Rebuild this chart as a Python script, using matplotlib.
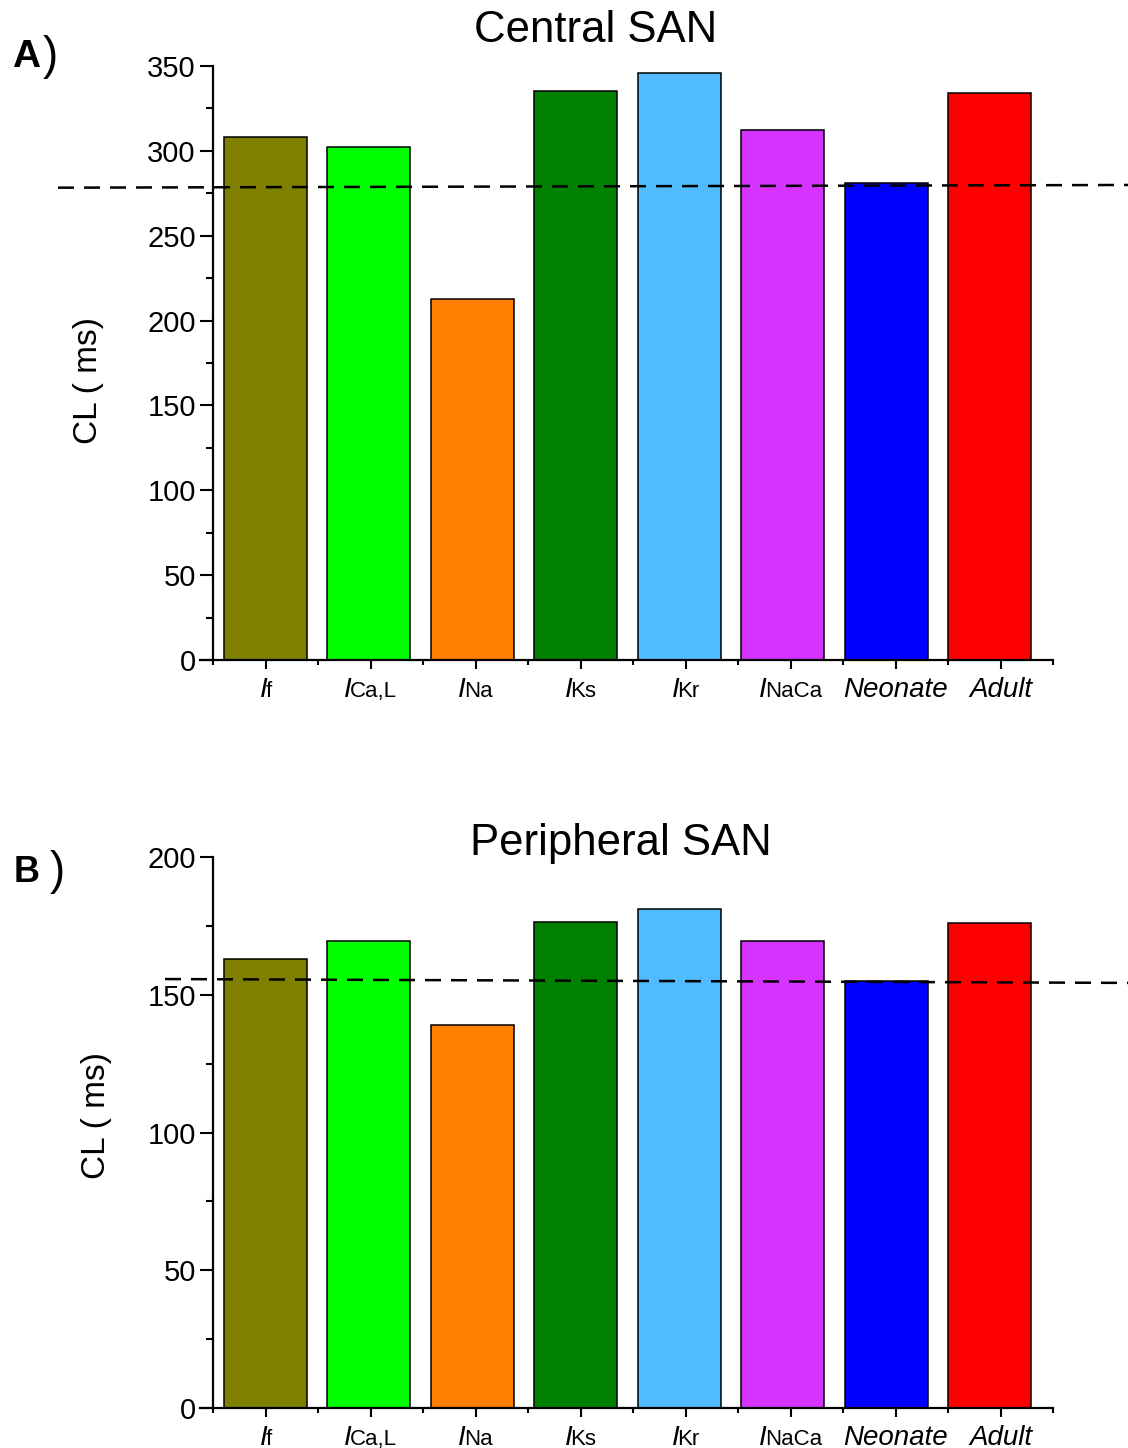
import numpy as np
import matplotlib
matplotlib.use("Agg")
import matplotlib.pyplot as plt
from matplotlib.offsetbox import TextArea, HPacker, AnnotationBbox
from matplotlib.ticker import MultipleLocator, FixedLocator

plt.rcParams['font.family'] = ['Liberation Sans', 'DejaVu Sans']

# Label parts: italic prefix + smaller upright suffix
label_prefix = ["I", "I", "I", "I", "I", "I", "", ""]
label_suffix = ["f", "Ca,L", "Na", "Ks", "Kr", "NaCa", "", ""]
label_whole = ["", "", "", "", "", "", "Neonate", "Adult"]

colors = ["#808000", "#00FF00", "#FF8000", "#008000",
          "#50BBFF", "#D533FF", "#0000FF", "#FF0000"]

central_cl = [308, 302, 213, 335, 346, 312, 281, 334]
peripheral_cl = [163, 169.5, 139, 176.5, 181, 169.5, 155, 176]

central_ref = [278.3, 279.9]      # reference CL line, left / right end
peripheral_ref = [155.7, 154.3]

W, H = 1128, 1448
fig = plt.figure(figsize=(W / 100, H / 100), dpi=100)


def px_axes(x0, x1, ytop, ybot):
    return fig.add_axes([x0 / W, 1 - ybot / H, (x1 - x0) / W, (ybot - ytop) / H])


def draw_panel(ax, values, ymax, ymajor, ref, ref_x0):
    n = len(values)
    pitch = 0.985
    xs = np.arange(n) * pitch
    ax.bar(xs, values, width=0.79, color=colors, edgecolor='black',
           linewidth=1.1, zorder=2)
    ax.set_xlim(-0.5 - 13 / 105, n - 0.5)
    ax.set_ylim(0, ymax)
    for s in ['top', 'right']:
        ax.spines[s].set_visible(False)
    ax.spines['left'].set_position(('data', -0.5))
    for s in ['left', 'bottom']:
        ax.spines[s].set_linewidth(1.6)
    ax.xaxis.set_major_locator(FixedLocator(np.arange(n)))
    ax.xaxis.set_minor_locator(FixedLocator(np.arange(n + 1) - 0.5))
    ax.set_xticklabels([])
    ax.yaxis.set_major_locator(MultipleLocator(ymajor))
    ax.yaxis.set_minor_locator(MultipleLocator(ymajor / 2))
    ax.tick_params(axis='x', which='major', length=6.5, width=1.5, direction='out')
    ax.tick_params(axis='x', which='minor', length=3.5, width=1.5, direction='out')
    ax.tick_params(axis='y', which='major', length=9.4, width=1.5,
                   direction='out', labelsize=21, pad=3)
    ax.tick_params(axis='y', which='minor', length=4.7, width=1.5, direction='out')
    ax.set_ylabel("CL ( ms)", fontsize=24)

    # x category labels
    for i in range(n):
        if label_whole[i]:
            parts = [TextArea(label_whole[i],
                              textprops=dict(fontsize=20, style='italic'))]
        else:
            parts = [TextArea(label_prefix[i],
                              textprops=dict(fontsize=20, style='italic')),
                     TextArea(label_suffix[i], textprops=dict(fontsize=16))]
        pack = HPacker(children=parts, align='baseline', pad=0, sep=-1.5)
        ab = AnnotationBbox(pack, (i, 0), xycoords=('data', 'axes fraction'),
                            xybox=(0, -12), boxcoords='offset points',
                            box_alignment=(0.5, 1), frameon=False,
                            annotation_clip=False)
        ax.add_artist(ab)

    # dashed reference line extending past the axes
    xr = [(ref_x0 - 200) / 853, (W - 200) / 853]
    ax.plot(xr, ref, transform=ax.get_yaxis_transform(), color='black',
            linewidth=1.8, linestyle=(0, (6.4, 4.0)), clip_on=False, zorder=3)


axA = px_axes(200, 1053, 66, 660)
draw_panel(axA, central_cl, 350, 50, central_ref, 58)
axA.yaxis.set_label_coords((104 - 200) / 853, 0.47)
fig.text(596 / W, 1 - 42 / H, "Central SAN", fontsize=31.5, ha='center', va='baseline')
fig.text(12 / W, 1 - 67 / H, "A", fontsize=28, fontweight='bold', va='baseline')
fig.text(43 / W, 1 - 69 / H, ")", fontsize=33, va='baseline')

axB = px_axes(200, 1053, 857, 1408)
draw_panel(axB, peripheral_cl, 200, 50, peripheral_ref, 165)
axB.yaxis.set_label_coords((112 - 200) / 853, 0.531)
fig.text(621 / W, 1 - 855 / H, "Peripheral SAN", fontsize=31.5, ha='center', va='baseline')
fig.text(14 / W, 1 - 882 / H, "B", fontsize=26, fontweight='bold', va='baseline')
fig.text(50 / W, 1 - 884 / H, ")", fontsize=33, va='baseline')

fig.savefig("out.png", dpi=100)
